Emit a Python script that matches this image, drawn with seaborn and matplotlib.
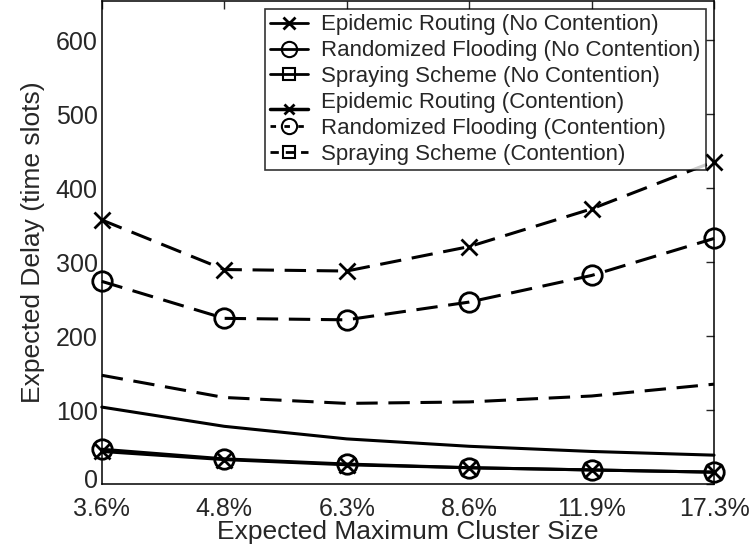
import numpy as np
import pandas as pd
import matplotlib
matplotlib.use('Agg')
import matplotlib.pyplot as plt
import matplotlib.transforms as mtransforms
import seaborn as sns
from matplotlib.lines import Line2D
from matplotlib.legend_handler import HandlerLine2D

# значения
cluster_sizes = ['3.6%', '4.8%', '6.3%', '8.6%', '11.9%', '17.3%']
epidemic_cont = [357, 290, 288, 321, 372, 436]
flooding_cont = [274, 224, 222, 246, 282, 332]
spraying_cont = [147, 117, 109, 111, 119, 135]
spraying_nocont = [104, 78, 61, 51, 44, 39]
epidemic_nocont = [44, 33, 26, 22, 19, 16]
flooding_nocont = [47, 34, 27, 22, 19, 16]

legend_labels = ['Epidemic Routing (No Contention)',
                 'Randomized Flooding (No Contention)',
                 'Spraying Scheme (No Contention)',
                 'Epidemic Routing (Contention)',
                 'Randomized Flooding (Contention)',
                 'Spraying Scheme (Contention)']

sns.set_style('white')
plt.rcParams['font.family'] = ['Liberation Sans', 'DejaVu Sans']

fig = plt.figure(figsize=(7.54, 5.5), dpi=100)
ax = fig.add_axes([0.135, 0.12, 0.812, 0.878])

dash = (7, 3.5)
lw = 2.2
series = [
    (epidemic_cont, 'x', dash),
    (flooding_cont, 'o', dash),
    (spraying_cont, None, dash),
    (spraying_nocont, None, ''),
    (epidemic_nocont, 'x', ''),
    (flooding_nocont, 'o', ''),
]
for vals, mk, ds in series:
    df = pd.DataFrame({'x': cluster_sizes, 'y': vals})
    sns.lineplot(data=df, x='x', y='y', ax=ax, color='black', linewidth=lw,
                 marker=mk, markersize=14 if mk == 'o' else 11,
                 markerfacecolor='none', markeredgecolor='black',
                 markeredgewidth=2, linestyle='--' if ds else '-',
                 clip_on=False)
for ln in ax.get_lines():
    if ln.get_linestyle() == '--':
        ln.set_dashes(dash)

ax.set_xlim(0, len(cluster_sizes) - 1)
ax.set_ylim(0, 653)
ax.set_yticks(range(0, 700, 100))
ax.set_xlabel('Expected Maximum Cluster Size', fontsize=19, va='center')
ax.xaxis.set_label_coords(0.5, -0.1)
ax.set_ylabel('Expected Delay (time slots)', fontsize=19, labelpad=8)
ax.tick_params(axis='both', labelsize=18, direction='in', length=6,
               top=True, right=True, width=1)
ax.tick_params(axis='x', pad=9)
ax.tick_params(axis='y', pad=3)
for s in ax.spines.values():
    s.set_color('black')
    s.set_linewidth(1.1)

# "0" чуть выше, чтобы не наезжать на "3.6%"
fig.canvas.draw()
zero_lbl = ax.get_yticklabels()[0]
zero_lbl.set_transform(zero_lbl.get_transform() +
                       mtransforms.ScaledTranslation(0, 0.06, fig.dpi_scale_trans))


class ShiftedLine(HandlerLine2D):
    # маркер сверху, линия ниже (как в исходной легенде)
    def create_artists(self, legend, orig_handle, xdescent, ydescent,
                       width, height, fontsize, trans):
        arts = super().create_artists(legend, orig_handle, xdescent, ydescent,
                                      width, height, fontsize, trans)
        for a in arts:
            yd = np.asarray(a.get_ydata(), dtype=float)
            if a.get_linestyle() not in ('None', 'none', ''):
                a.set_ydata(yd - height * 0.55)
        return arts


h = [
    Line2D([], [], color='black', lw=2, marker='x', markersize=8, markeredgewidth=2),
    Line2D([], [], color='black', lw=2, marker='o', markersize=11,
           markerfacecolor='none', markeredgewidth=1.5),
    Line2D([], [], color='black', lw=2, marker='s', markersize=8,
           markerfacecolor='none', markeredgewidth=1.5),
    Line2D([], [], color='black', lw=2.5, marker='x', markersize=7, markeredgewidth=2),
    Line2D([], [], color='black', lw=2, ls='--', dashes=(2, 3), marker='o',
           markersize=11, markerfacecolor='none', markeredgewidth=1.5),
    Line2D([], [], color='black', lw=2, ls='--', dashes=(3, 2.5), marker='s',
           markersize=8, markerfacecolor='none', markeredgewidth=1.5),
]
leg = ax.legend(h, legend_labels, loc='upper right', fontsize=16,
                frameon=True, fancybox=False, edgecolor='black',
                borderaxespad=0.35, labelspacing=0.22, handlelength=1.7,
                handletextpad=0.6, borderpad=0.25,
                handler_map={h[3]: ShiftedLine()})
leg.get_frame().set_linewidth(1.2)

fig.savefig('out.png', dpi=100)
